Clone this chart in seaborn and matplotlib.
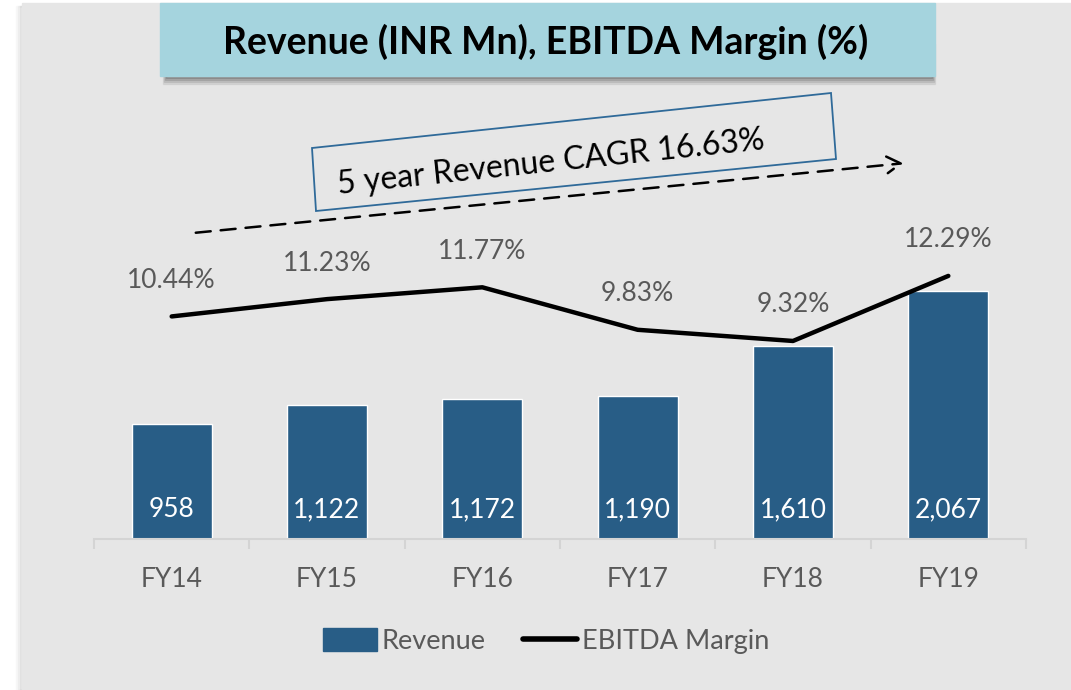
"""
Revenue (INR Mn) bars with EBITDA margin line, recreated with seaborn.
"""

import matplotlib
matplotlib.use("Agg")
import matplotlib.pyplot as plt
import matplotlib.patches as mpatches
from matplotlib.lines import Line2D
import numpy as np
import pandas as pd
import seaborn as sns

# ---- data ----
years = ["FY14", "FY15", "FY16", "FY17", "FY18", "FY19"]
revenue = [958, 1122, 1172, 1190, 1610, 2067]
revenue_labels = ["958", "1,122", "1,172", "1,190", "1,610", "2,067"]
ebitda_margin = [10.44, 11.23, 11.77, 9.83, 9.32, 12.29]
title = "Revenue (INR Mn), EBITDA Margin (%)"
cagr_text = "5 year Revenue CAGR 16.63%"

BAR_COLOR = "#285D86"
GREY_TXT = "#595959"
PANEL = "#E6E6E6"
W, H = 1071, 690


def px(x, y):
    """pixel (from top-left) -> figure fraction"""
    return x / W, 1 - y / H


sns.set_theme(style="white")
plt.rcParams["font.family"] = ["Lato", "DejaVu Sans"]

fig = plt.figure(figsize=(W / 100, H / 100), dpi=100, facecolor="white")

# grey panel with a soft left shadow (behind the axes)
for i, a in enumerate([0.05, 0.08, 0.12]):
    fig.patches.append(mpatches.Rectangle(px(16 + 2 * i, 690), 1, 1 - 6 / H,
                                          transform=fig.transFigure, color="#9a9a9a",
                                          alpha=a, zorder=-2))
fig.patches.append(mpatches.Rectangle(px(22, 690), 1, 1 - 3 / H,
                                      transform=fig.transFigure, color=PANEL, zorder=-1))

# axes area: x 94..1026, y 100..539 (pixels)
x0, y0 = px(94, 539)
ax = fig.add_axes([x0, y0, 932 / W, 439 / H])
ax.set_facecolor("none")

df = pd.DataFrame({"year": years, "revenue": revenue, "margin": ebitda_margin})
sns.barplot(data=df, x="year", y="revenue", color=BAR_COLOR, width=0.515,
            saturation=1, ax=ax, zorder=2)
ax.set_xlim(-0.5, len(years) - 0.5)
ax.set_ylim(0, 3664)
ax.set_xlabel("")
ax.set_ylabel("")
ax.set_yticks([])
for s in ["top", "left", "right"]:
    ax.spines[s].set_visible(False)
ax.spines["bottom"].set_color("#D4D4D4")
ax.spines["bottom"].set_linewidth(1.5)
ax.set_xticks(np.arange(-0.5, len(years)), minor=True)
ax.tick_params(axis="x", which="major", length=0, pad=20, labelsize=19,
               labelcolor=GREY_TXT)
ax.tick_params(axis="x", which="minor", length=7, width=1.5, color="#D4D4D4",
               direction="out", bottom=True)

for i, lab in enumerate(revenue_labels):
    ax.annotate(lab, (i, 0), xytext=(0, 21), textcoords="offset points",
                ha="center", va="center", color="white", fontsize=19, zorder=4)

# EBITDA margin on secondary axis
ax2 = ax.twinx()
ax2.set_facecolor("none")
sns.lineplot(x=np.arange(len(years)), y=df["margin"], color="black", lw=3.2,
             ax=ax2, zorder=3, solid_capstyle="round")
ax2.set_ylim(0.28, 20.32)
ax2.set_xlim(-0.5, len(years) - 0.5)
ax2.set_yticks([])
ax2.set_ylabel("")
for s in ax2.spines.values():
    s.set_visible(False)
for i, v in enumerate(ebitda_margin):
    ax2.annotate(f"{v:.2f}%", (i, v), xytext=(0, 26), textcoords="offset points",
                 ha="center", va="center", color=GREY_TXT, fontsize=19)

# title box with shadow
for k, a in enumerate([0.10, 0.14, 0.20, 0.28]):
    bx, by = px(163 + k, 84 - 2 * k)
    fig.patches.append(mpatches.Rectangle((bx, by), (772 - 2 * k) / W, 40 / H,
                                          transform=fig.transFigure, color="#555555",
                                          alpha=a, zorder=5))
bx, by = px(160, 76)
fig.patches.append(mpatches.Rectangle((bx, by), 775 / W, 73 / H,
                                      transform=fig.transFigure, color="#A5D4DE",
                                      zorder=6))
fig.text(*px(546, 42), title, ha="center", va="center", fontsize=27,
         fontweight="bold", color="black", zorder=7)

# CAGR call-out (rotated box + dashed arrow)
corners = [px(316, 211), px(312, 148), px(831, 93), px(836, 159)]
fig.patches.append(mpatches.Polygon(corners, closed=True, transform=fig.transFigure,
                                    fill=False, edgecolor="#2F6A99", lw=1.3, zorder=6))
fig.text(*px(551, 163), cagr_text, ha="center", va="center", rotation=6,
         rotation_mode="anchor", fontsize=23, color="black", zorder=7)
fig.add_artist(matplotlib.patches.FancyArrowPatch(
    px(193, 233), px(906, 163), transform=fig.transFigure,
    arrowstyle="->,head_length=10,head_width=6", linestyle=(0, (6, 4)),
    lw=1.8, color="black", zorder=6))

# legend
handles = [mpatches.Patch(color=BAR_COLOR, label="Revenue"),
           Line2D([0], [0], color="black", lw=4, solid_capstyle="round",
                  label="EBITDA Margin")]
leg = fig.legend(handles=handles, loc="center", bbox_to_anchor=px(546, 641),
                 ncol=2, frameon=False, fontsize=19.5, handlelength=2.0,
                 handleheight=0.9, handletextpad=0.15, columnspacing=1.4)
for t in leg.get_texts():
    t.set_color(GREY_TXT)

fig.savefig("out.png", dpi=100, facecolor="white")
